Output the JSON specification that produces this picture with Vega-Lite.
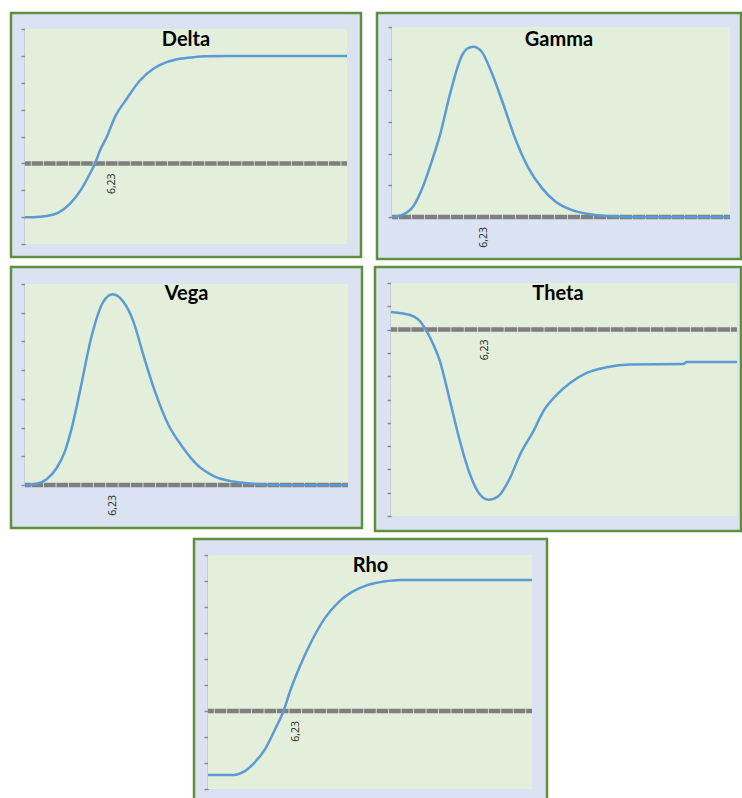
{
  "$schema": "https://vega.github.io/schema/vega-lite/v6.json",
  "background": "white",
  "padding": {"left": 9, "top": 11, "right": 0, "bottom": 0},
  "config": {
    "view": {"fill": "#dbe3f2", "stroke": "#5f8f3f", "strokeWidth": 2.5},
    "title": {"font": "Lato", "fontSize": 20, "fontWeight": "bold", "color": "#000000", "anchor": "middle", "frame": "group", "baseline": "alphabetic", "offset": -37},
    "axis": {"domainColor": "#8c8c8c", "domainWidth": 1.5, "tickColor": "#8c8c8c", "tickWidth": 1.5, "tickSize": 4, "labels": false, "grid": false, "zindex": 1, "minExtent": 0},
    "line": {"stroke": "#5b9bd5", "strokeWidth": 2.5, "interpolate": "monotone"},
    "rect": {"fill": "#e3efda"},
    "text": {"font": "Open Sans", "fontSize": 10.5, "fill": "#262626", "angle": 270, "align": "right", "baseline": "middle", "dx": -10}
  },
  "datasets": {
    "one": [{}],
    "delta": [
      {"x": 2.7, "y": -0.4}, {"x": 3.04, "y": -0.4}, {"x": 3.58, "y": -0.392}, {"x": 4.05, "y": -0.367},
      {"x": 4.52, "y": -0.3}, {"x": 4.99, "y": -0.188}, {"x": 5.32, "y": -0.077}, {"x": 5.53, "y": 0.0},
      {"x": 5.73, "y": 0.097}, {"x": 6.0, "y": 0.196}, {"x": 6.33, "y": 0.344}, {"x": 6.81, "y": 0.481},
      {"x": 7.34, "y": 0.617}, {"x": 7.88, "y": 0.704}, {"x": 8.42, "y": 0.753}, {"x": 8.96, "y": 0.778},
      {"x": 9.49, "y": 0.79}, {"x": 9.97, "y": 0.797}, {"x": 11.0, "y": 0.8}, {"x": 15.7, "y": 0.8}
    ],
    "gamma": [
      {"x": 2.7, "y": 0}, {"x": 3.07, "y": 0.003}, {"x": 3.52, "y": 0.017}, {"x": 3.9, "y": 0.049},
      {"x": 4.23, "y": 0.088}, {"x": 4.55, "y": 0.13}, {"x": 4.93, "y": 0.194}, {"x": 5.38, "y": 0.254},
      {"x": 5.6, "y": 0.266}, {"x": 5.83, "y": 0.269}, {"x": 6.15, "y": 0.261}, {"x": 6.53, "y": 0.228},
      {"x": 6.98, "y": 0.178}, {"x": 7.43, "y": 0.125}, {"x": 7.94, "y": 0.078}, {"x": 8.46, "y": 0.046},
      {"x": 8.97, "y": 0.025}, {"x": 9.55, "y": 0.012}, {"x": 10.19, "y": 0.005}, {"x": 10.96, "y": 0.0015},
      {"x": 12.0, "y": 0}, {"x": 15.7, "y": 0}
    ],
    "vega": [
      {"x": 2.7, "y": 0}, {"x": 3.17, "y": 0.02}, {"x": 3.57, "y": 0.1}, {"x": 3.98, "y": 0.3},
      {"x": 4.31, "y": 0.59}, {"x": 4.58, "y": 0.99}, {"x": 4.91, "y": 1.63}, {"x": 5.38, "y": 2.59},
      {"x": 5.85, "y": 3.19}, {"x": 6.23, "y": 3.32}, {"x": 6.66, "y": 3.19}, {"x": 7.06, "y": 2.85},
      {"x": 7.46, "y": 2.27}, {"x": 7.93, "y": 1.63}, {"x": 8.47, "y": 1.05}, {"x": 9.01, "y": 0.68},
      {"x": 9.61, "y": 0.36}, {"x": 10.28, "y": 0.16}, {"x": 11.08, "y": 0.06}, {"x": 11.89, "y": 0.02},
      {"x": 13.0, "y": 0}, {"x": 15.7, "y": 0}
    ],
    "theta": [
      {"x": 2.7, "y": 0.0076}, {"x": 3.16, "y": 0.0069}, {"x": 3.54, "y": 0.0057}, {"x": 3.79, "y": 0.0036},
      {"x": 4.04, "y": -0.0007}, {"x": 4.29, "y": -0.0064}, {"x": 4.54, "y": -0.0136}, {"x": 4.92, "y": -0.0308},
      {"x": 5.29, "y": -0.0479}, {"x": 5.67, "y": -0.0622}, {"x": 6.04, "y": -0.0708}, {"x": 6.36, "y": -0.073},
      {"x": 6.73, "y": -0.0715}, {"x": 7.17, "y": -0.0637}, {"x": 7.55, "y": -0.0536}, {"x": 8.05, "y": -0.0436},
      {"x": 8.42, "y": -0.0351}, {"x": 8.93, "y": -0.0279}, {"x": 9.43, "y": -0.0229}, {"x": 10.05, "y": -0.0186},
      {"x": 10.8, "y": -0.0162}, {"x": 11.68, "y": -0.015}, {"x": 13.68, "y": -0.0148}, {"x": 13.81, "y": -0.0139},
      {"x": 15.7, "y": -0.0139}
    ],
    "rho": [
      {"x": 2.7, "y": -1.23}, {"x": 3.74, "y": -1.23}, {"x": 4.14, "y": -1.167}, {"x": 4.54, "y": -1.006},
      {"x": 5.01, "y": -0.718}, {"x": 5.41, "y": -0.333}, {"x": 5.72, "y": -0.013}, {"x": 6.01, "y": 0.404},
      {"x": 6.41, "y": 0.885}, {"x": 6.88, "y": 1.365}, {"x": 7.41, "y": 1.8}, {"x": 7.95, "y": 2.1},
      {"x": 8.48, "y": 2.29}, {"x": 9.09, "y": 2.42}, {"x": 9.76, "y": 2.49}, {"x": 10.42, "y": 2.52},
      {"x": 15.7, "y": 2.52}
    ]
  },
  "spacing": 4,
  "vconcat": [
    {
      "spacing": 12,
      "hconcat": [
        {
          "width": 350, "height": 244,
          "title": {"text": "Delta"},
          "layer": [
            {"data": {"name": "one"}, "mark": "rect", "encoding": {
              "x": {"datum": 2.7, "type": "quantitative", "scale": {"domain": [2.7, 15.7], "range": [14, 336], "nice": false, "zero": false}, "axis": null},
              "x2": {"datum": 15.7},
              "y": {"datum": -0.6, "type": "quantitative", "scale": {"domain": [-0.6, 1.0], "range": [231, 16], "nice": false, "zero": false},
                    "axis": {"title": null, "offset": -14, "values": [-0.6, -0.4, -0.2, 0, 0.2, 0.4, 0.6, 0.8, 1.0]}},
              "y2": {"datum": 1.0}}},
            {"data": {"name": "one"}, "mark": {"type": "rule", "stroke": "#7f7f7f", "strokeWidth": 4.5, "strokeDash": [11.59, 0.8], "strokeDashOffset": 5.79},
             "encoding": {"x": {"datum": 2.7, "axis": null}, "x2": {"datum": 15.7},
                          "y": {"datum": 0, "axis": {"title": null, "offset": -14, "values": [-0.6, -0.4, -0.2, 0, 0.2, 0.4, 0.6, 0.8, 1.0]}}}},
            {"data": {"name": "delta"}, "mark": "line",
             "encoding": {"x": {"field": "x", "type": "quantitative", "axis": null},
                          "y": {"field": "y", "type": "quantitative", "axis": {"title": null, "offset": -14, "values": [-0.6, -0.4, -0.2, 0, 0.2, 0.4, 0.6, 0.8, 1.0]}}}},
            {"data": {"name": "one"}, "mark": "text", "encoding": {"x": {"datum": 6.23, "axis": null},
                          "y": {"datum": 0, "axis": {"title": null, "offset": -14, "values": [-0.6, -0.4, -0.2, 0, 0.2, 0.4, 0.6, 0.8, 1.0]}}, "text": {"value": "6,23"}}}
          ]
        },
        {
          "width": 364, "height": 246,
          "title": {"text": "Gamma"},
          "layer": [
            {"data": {"name": "one"}, "mark": "rect", "encoding": {
              "x": {"datum": 2.7, "type": "quantitative", "scale": {"domain": [2.7, 15.7], "range": [15, 353], "nice": false, "zero": false}, "axis": null},
              "x2": {"datum": 15.7},
              "y": {"datum": 0, "type": "quantitative", "scale": {"domain": [0, 0.3], "range": [204, 14], "nice": false, "zero": false},
                    "axis": {"title": null, "offset": -15, "values": [0, 0.05, 0.1, 0.15, 0.2, 0.25, 0.3]}},
              "y2": {"datum": 0.3}}},
            {"data": {"name": "one"}, "mark": {"type": "rule", "stroke": "#7f7f7f", "strokeWidth": 4.5, "strokeDash": [12.2, 0.8], "strokeDashOffset": 6.1},
             "encoding": {"x": {"datum": 2.7, "axis": null}, "x2": {"datum": 15.7},
                          "y": {"datum": 0, "axis": {"title": null, "offset": -15, "values": [0, 0.05, 0.1, 0.15, 0.2, 0.25, 0.3]}}}},
            {"data": {"name": "gamma"}, "mark": "line",
             "encoding": {"x": {"field": "x", "type": "quantitative", "axis": null},
                          "y": {"field": "y", "type": "quantitative", "axis": {"title": null, "offset": -15, "values": [0, 0.05, 0.1, 0.15, 0.2, 0.25, 0.3]}}}},
            {"data": {"name": "one"}, "mark": "text", "encoding": {"x": {"datum": 6.23, "axis": null},
                          "y": {"datum": 0, "axis": {"title": null, "offset": -15, "values": [0, 0.05, 0.1, 0.15, 0.2, 0.25, 0.3]}}, "text": {"value": "6,23"}}}
          ]
        }
      ]
    },
    {
      "spacing": 9,
      "hconcat": [
        {
          "width": 351, "height": 261,
          "title": {"text": "Vega"},
          "layer": [
            {"data": {"name": "one"}, "mark": "rect", "encoding": {
              "x": {"datum": 2.7, "type": "quantitative", "scale": {"domain": [2.7, 15.7], "range": [14, 337], "nice": false, "zero": false}, "axis": null},
              "x2": {"datum": 15.7},
              "y": {"datum": 0, "type": "quantitative", "scale": {"domain": [0, 3.5], "range": [218, 17], "nice": false, "zero": false},
                    "axis": {"title": null, "offset": -14, "values": [0, 0.5, 1, 1.5, 2, 2.5, 3, 3.5]}},
              "y2": {"datum": 3.5}}},
            {"data": {"name": "one"}, "mark": {"type": "rule", "stroke": "#7f7f7f", "strokeWidth": 4.5, "strokeDash": [11.62, 0.8], "strokeDashOffset": 5.81},
             "encoding": {"x": {"datum": 2.7, "axis": null}, "x2": {"datum": 15.7},
                          "y": {"datum": 0, "axis": {"title": null, "offset": -14, "values": [0, 0.5, 1, 1.5, 2, 2.5, 3, 3.5]}}}},
            {"data": {"name": "vega"}, "mark": "line",
             "encoding": {"x": {"field": "x", "type": "quantitative", "axis": null},
                          "y": {"field": "y", "type": "quantitative", "axis": {"title": null, "offset": -14, "values": [0, 0.5, 1, 1.5, 2, 2.5, 3, 3.5]}}}},
            {"data": {"name": "one"}, "mark": "text", "encoding": {"x": {"datum": 6.23, "axis": null},
                          "y": {"datum": 0, "axis": {"title": null, "offset": -14, "values": [0, 0.5, 1, 1.5, 2, 2.5, 3, 3.5]}}, "text": {"value": "6,23"}}}
          ]
        },
        {
          "width": 366, "height": 264,
          "title": {"text": "Theta"},
          "layer": [
            {"data": {"name": "one"}, "mark": "rect", "encoding": {
              "x": {"datum": 2.7, "type": "quantitative", "scale": {"domain": [2.7, 15.7], "range": [16, 362], "nice": false, "zero": false}, "axis": null},
              "x2": {"datum": 15.7},
              "y": {"datum": -0.08, "type": "quantitative", "scale": {"domain": [-0.08, 0.02], "range": [249, 16], "nice": false, "zero": false},
                    "axis": {"title": null, "offset": -16, "values": [-0.08, -0.07, -0.06, -0.05, -0.04, -0.03, -0.02, -0.01, 0, 0.01, 0.02]}},
              "y2": {"datum": 0.02}}},
            {"data": {"name": "one"}, "mark": {"type": "rule", "stroke": "#7f7f7f", "strokeWidth": 4.5, "strokeDash": [12.51, 0.8], "strokeDashOffset": 6.25},
             "encoding": {"x": {"datum": 2.7, "axis": null}, "x2": {"datum": 15.7},
                          "y": {"datum": 0, "axis": {"title": null, "offset": -16, "values": [-0.08, -0.07, -0.06, -0.05, -0.04, -0.03, -0.02, -0.01, 0, 0.01, 0.02]}}}},
            {"data": {"name": "theta"}, "mark": "line",
             "encoding": {"x": {"field": "x", "type": "quantitative", "axis": null},
                          "y": {"field": "y", "type": "quantitative", "axis": {"title": null, "offset": -16, "values": [-0.08, -0.07, -0.06, -0.05, -0.04, -0.03, -0.02, -0.01, 0, 0.01, 0.02]}}}},
            {"data": {"name": "one"}, "mark": "text", "encoding": {"x": {"datum": 6.23, "axis": null},
                          "y": {"datum": 0, "axis": {"title": null, "offset": -16, "values": [-0.08, -0.07, -0.06, -0.05, -0.04, -0.03, -0.02, -0.01, 0, 0.01, 0.02]}}, "text": {"value": "6,23"}}}
          ]
        }
      ]
    },
    {
      "spacing": 0,
      "hconcat": [
        {"width": 181, "height": 10, "view": {"fill": null, "stroke": null}, "data": {"values": []}, "mark": "point"},
        {
          "width": 353, "height": 262,
          "title": {"text": "Rho"},
          "layer": [
            {"data": {"name": "one"}, "mark": "rect", "encoding": {
              "x": {"datum": 2.7, "type": "quantitative", "scale": {"domain": [2.7, 15.7], "range": [14, 338], "nice": false, "zero": false}, "axis": null},
              "x2": {"datum": 15.7},
              "y": {"datum": -1.5, "type": "quantitative", "scale": {"domain": [-1.5, 3.0], "range": [250, 16], "nice": false, "zero": false},
                    "axis": {"title": null, "offset": -14, "values": [-1.5, -1, -0.5, 0, 0.5, 1, 1.5, 2, 2.5, 3]}},
              "y2": {"datum": 3.0}}},
            {"data": {"name": "one"}, "mark": {"type": "rule", "stroke": "#7f7f7f", "strokeWidth": 4.5, "strokeDash": [11.66, 0.8], "strokeDashOffset": 5.83},
             "encoding": {"x": {"datum": 2.7, "axis": null}, "x2": {"datum": 15.7},
                          "y": {"datum": 0, "axis": {"title": null, "offset": -14, "values": [-1.5, -1, -0.5, 0, 0.5, 1, 1.5, 2, 2.5, 3]}}}},
            {"data": {"name": "rho"}, "mark": "line",
             "encoding": {"x": {"field": "x", "type": "quantitative", "axis": null},
                          "y": {"field": "y", "type": "quantitative", "axis": {"title": null, "offset": -14, "values": [-1.5, -1, -0.5, 0, 0.5, 1, 1.5, 2, 2.5, 3]}}}},
            {"data": {"name": "one"}, "mark": "text", "encoding": {"x": {"datum": 6.23, "axis": null},
                          "y": {"datum": 0, "axis": {"title": null, "offset": -14, "values": [-1.5, -1, -0.5, 0, 0.5, 1, 1.5, 2, 2.5, 3]}}, "text": {"value": "6,23"}}}
          ]
        }
      ]
    }
  ]
}
